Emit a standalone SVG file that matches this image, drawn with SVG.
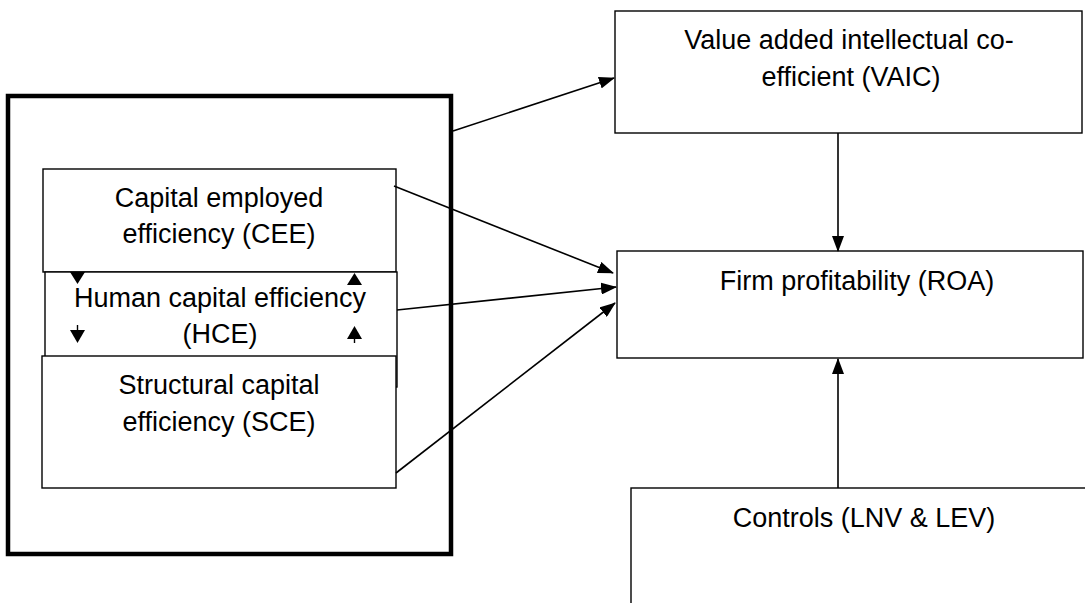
<svg xmlns="http://www.w3.org/2000/svg" width="1085" height="603" viewBox="0 0 1085 603">
<style>
.box{fill:#fff;stroke:#000;stroke-width:1.4}
.outer{fill:#fff;stroke:#000;stroke-width:4.5}
.lbl{font-family:"Liberation Sans",Arial,sans-serif;font-size:27px;fill:#000;text-anchor:middle}
.con{stroke:#000;stroke-width:1.6;fill:none;marker-end:url(#ah)}
.tri{fill:#000}
</style>
<defs>
<marker id="ah" markerUnits="userSpaceOnUse" markerWidth="16" markerHeight="12" viewBox="0 0 16 12" refX="15" refY="6" orient="auto">
<path d="M0,0 L16,6 L0,12 z" fill="#000"/>
</marker>
</defs>
<rect width="1085" height="603" fill="#fff"/>
<g id="group-ic">
<rect class="outer" x="8" y="96" width="443" height="458"/>
</g>
<g id="node-cee">
<rect class="box" x="43" y="169" width="353" height="103"/>
<text class="lbl" x="219" y="207">Capital employed</text>
<text class="lbl" x="219" y="243">efficiency (CEE)</text>
</g>
<g id="node-hce">
<rect class="box" x="45" y="272" width="352" height="115"/>
<text class="lbl" x="220" y="307">Human capital efficiency</text>
<text class="lbl" x="220" y="343">(HCE)</text>
</g>
<g id="node-sce">
<rect class="box" x="42" y="356" width="354" height="132"/>
<text class="lbl" x="219" y="394">Structural capital</text>
<text class="lbl" x="219" y="431">efficiency (SCE)</text>
</g>
<g id="node-vaic">
<rect class="box" x="615" y="11" width="467" height="122"/>
<text class="lbl" x="849" y="49">Value added intellectual co-</text>
<text class="lbl" x="851" y="86">efficient (VAIC)</text>
</g>
<g id="node-roa">
<rect class="box" x="617" y="251" width="466" height="107"/>
<text class="lbl" x="857" y="290">Firm profitability (ROA)</text>
</g>
<g id="node-controls">
<rect class="box" x="631" y="488" width="460" height="130"/>
<text class="lbl" x="864" y="527">Controls (LNV &amp; LEV)</text>
</g>
<g id="connectors">
<line class="con" x1="453" y1="131" x2="614" y2="78"/>
<line class="con" x1="394" y1="186" x2="613" y2="273"/>
<line class="con" x1="397" y1="310" x2="616" y2="287"/>
<line class="con" x1="396" y1="473" x2="615" y2="303"/>
<line class="con" x1="838" y1="133" x2="838" y2="251"/>
<line class="con" x1="838" y1="488" x2="838" y2="359"/>
<polygon class="tri" points="70,272 85,272 77.5,284"/>
<line x1="77.5" y1="325" x2="77.5" y2="330" stroke="#000" stroke-width="1.4"/>
<polygon class="tri" points="70,330 85,330 77.5,343"/>
<polygon class="tri" points="354.5,273 347,285 362,285"/>
<polygon class="tri" points="354.5,326 347,339 362,339"/>
<line x1="354.5" y1="339" x2="354.5" y2="343" stroke="#000" stroke-width="1.4"/>
</g>
</svg>
